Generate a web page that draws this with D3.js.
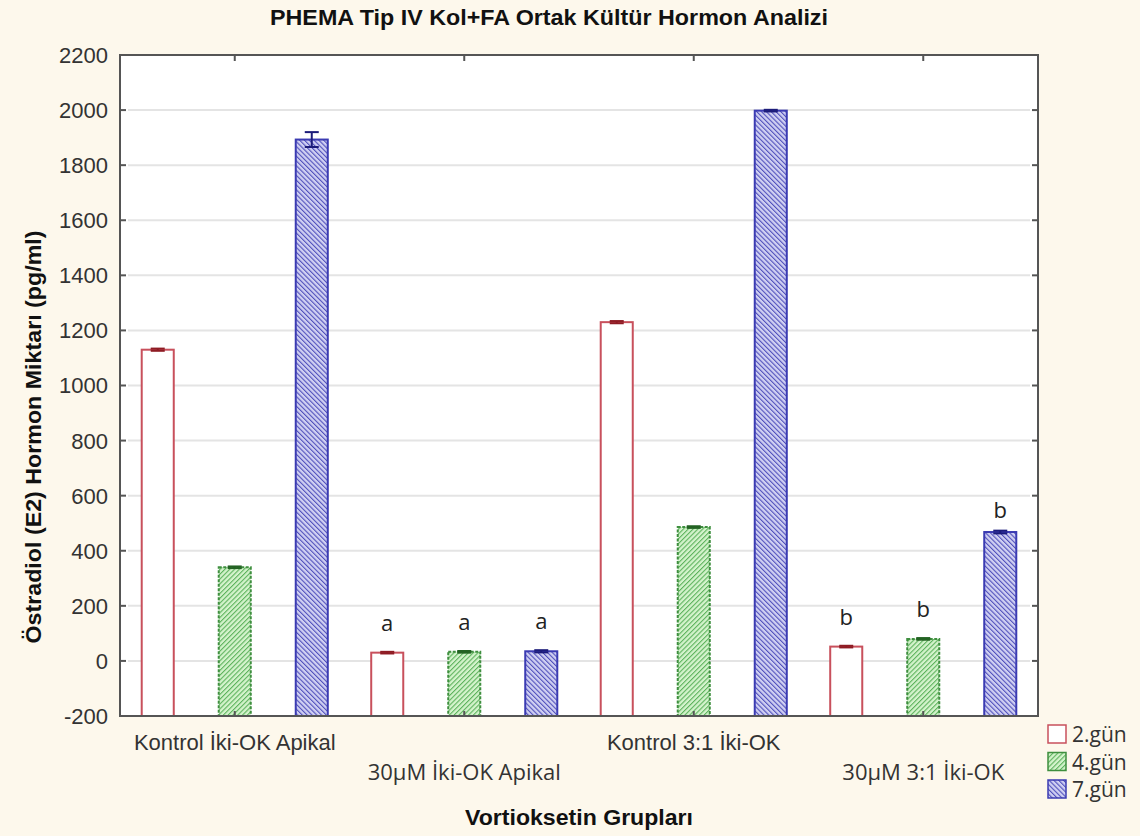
<!DOCTYPE html>
<html lang="tr">
<head>
<meta charset="utf-8">
<title>PHEMA Tip IV Kol+FA Ortak Kültür Hormon Analizi</title>
<script src="https://d3js.org/d3.v7.min.js"></script>
<style>
  body { margin: 0; background: #fdf8ec; }
  svg { display: block; }
</style>
</head>
<body>
<div id="chart"></div>
<script>
// data
var groups = ["Kontrol İki-OK Apikal", "30μM İki-OK Apikal", "Kontrol 3:1 İki-OK", "30μM 3:1 İki-OK"]
var series = ["2.gün", "4.gün", "7.gün"]
var gun2 = [1130, 30, 1230, 52]
var gun4 = [340, 33, 486, 80]
var gun7 = [1893, 35, 1998, 468]
var err2 = [4, 3, 4, 3]
var err4 = [3, 3, 3, 3]
var err7 = [27, 4, 3, 5]
var letters = [["", "", ""], ["a", "a", "a"], ["", "", ""], ["b", "b", "b"]]
var yTicks = [-200, 0, 200, 400, 600, 800, 1000, 1200, 1400, 1600, 1800, 2000, 2200]

var width = 1140, height = 836
var margin = {top: 55, right: 102, bottom: 120, left: 120}

var svg = d3.select("#chart").append("svg")
  .attr("width", width)
  .attr("height", height)

// hatch patterns
var defs = svg.append("defs")
function hatch(id, bg, line, angle) {
  var p = defs.append("pattern")
    .attr("id", id)
    .attr("patternUnits", "userSpaceOnUse")
    .attr("width", 3.4).attr("height", 3.4)
    .attr("patternTransform", "rotate(" + angle + ")")
  p.append("rect").attr("width", 3.4).attr("height", 3.4).attr("fill", bg)
  p.append("rect").attr("width", 1.1).attr("height", 3.4).attr("fill", line)
}
hatch("hatchGreen", "#d4f3cc", "#5cb25c", 45)
hatch("hatchBlue", "#d0d0f2", "#5050bc", -45)

var style = [
  {fill: "#ffffff", stroke: "#c8505c", err: "#8e1c24", dash: null},
  {fill: "url(#hatchGreen)", stroke: "#3f8f3f", err: "#236323", dash: "3,1.5"},
  {fill: "url(#hatchBlue)", stroke: "#3b3bb2", err: "#1c1c7a", dash: null}
]

var x0 = margin.left, x1 = width - margin.right
var yTop = margin.top, yBot = height - margin.bottom

// plot area background
svg.append("rect")
  .attr("x", x0).attr("y", yTop)
  .attr("width", x1 - x0).attr("height", yBot - yTop)
  .attr("fill", "#ffffff")

var x = d3.scaleBand().domain(groups).range([x0, x1]).padding(0)
var xs = d3.scaleBand().domain(series).range([0, x.bandwidth()])
  .paddingInner(0.584).paddingOuter(0.282)
var y = d3.scaleLinear().domain([-200, 2200]).range([yBot, yTop])

// gridlines
svg.append("g").selectAll("line")
  .data(yTicks.slice(1, -1))
  .enter().append("line")
    .attr("x1", x0 + 8).attr("x2", x1 - 8)
    .attr("y1", function(d){ return y(d) }).attr("y2", function(d){ return y(d) })
    .attr("stroke", "#e4e4e4")
    .attr("stroke-width", 2)

// bars
var rows = series.map(function(s, si) {
  var vals = [gun2, gun4, gun7][si]
  var errs = [err2, err4, err7][si]
  return groups.map(function(g, gi) {
    return {group: g, s: s, si: si, v: vals[gi], e: errs[gi], letter: letters[gi][si]}
  })
})
var flat = [].concat.apply([], rows)

function cx(d) { return x(d.group) + xs(d.s) + xs.bandwidth() / 2 }

svg.append("g").selectAll("rect")
  .data(flat)
  .enter().append("rect")
    .attr("x", function(d){ return x(d.group) + xs(d.s) })
    .attr("y", function(d){ return y(d.v) })
    .attr("width", xs.bandwidth())
    .attr("height", function(d){ return y(-200) - y(d.v) })
    .attr("fill", function(d){ return style[d.si].fill })
    .attr("stroke", function(d){ return style[d.si].stroke })
    .attr("stroke-dasharray", function(d){ return style[d.si].dash })
    .attr("stroke-width", 2)

// error bars
var eb = svg.append("g").selectAll("g")
  .data(flat)
  .enter().append("g")
    .attr("stroke", function(d){ return style[d.si].err })
    .attr("stroke-width", 2)
eb.append("line")
  .attr("x1", cx).attr("x2", cx)
  .attr("y1", function(d){ return y(d.v + d.e) })
  .attr("y2", function(d){ return y(d.v - d.e) })
eb.append("line")
  .attr("x1", function(d){ return cx(d) - 7 }).attr("x2", function(d){ return cx(d) + 7 })
  .attr("y1", function(d){ return y(d.v + d.e) }).attr("y2", function(d){ return y(d.v + d.e) })
eb.append("line")
  .attr("x1", function(d){ return cx(d) - 7 }).attr("x2", function(d){ return cx(d) + 7 })
  .attr("y1", function(d){ return y(d.v - d.e) }).attr("y2", function(d){ return y(d.v - d.e) })

// significance letters
svg.append("g").selectAll("text")
  .data(flat.filter(function(d){ return d.letter }))
  .enter().append("text")
    .attr("x", cx)
    .attr("y", function(d){ return y(d.v) - (d.v > 300 ? 14 : 22) })
    .attr("text-anchor", "middle")
    .style("font-family", "'Open Sans', sans-serif")
    .style("font-size", "22px")
    .attr("fill", "#222")
    .text(function(d){ return d.letter })

// frame and ticks
var frame = svg.append("g").attr("stroke", "#555").attr("stroke-width", 2)
frame.append("rect")
  .attr("x", x0).attr("y", yTop)
  .attr("width", x1 - x0).attr("height", yBot - yTop)
  .attr("fill", "none")
frame.selectAll(".yt")
  .data(yTicks).enter().append("line")
    .attr("x1", x0).attr("x2", x0 + 6)
    .attr("y1", function(d){ return y(d) }).attr("y2", function(d){ return y(d) })
frame.selectAll(".yr")
  .data(yTicks).enter().append("line")
    .attr("x1", x1 - 6).attr("x2", x1)
    .attr("y1", function(d){ return y(d) }).attr("y2", function(d){ return y(d) })
frame.selectAll(".xt")
  .data(groups).enter().append("line")
    .attr("x1", function(d){ return x(d) + x.bandwidth() / 2 })
    .attr("x2", function(d){ return x(d) + x.bandwidth() / 2 })
    .attr("y1", yTop).attr("y2", yTop + 6)
frame.selectAll(".xb")
  .data(groups).enter().append("line")
    .attr("x1", function(d){ return x(d) + x.bandwidth() / 2 })
    .attr("x2", function(d){ return x(d) + x.bandwidth() / 2 })
    .attr("y1", yBot - 5).attr("y2", yBot)

// y tick labels
svg.append("g").selectAll("text")
  .data(yTicks).enter().append("text")
    .attr("x", x0 - 12)
    .attr("y", function(d){ return y(d) })
    .attr("dy", "0.36em")
    .attr("text-anchor", "end")
    .style("font-family", "'Liberation Sans', Arial, sans-serif")
    .style("font-size", "22px")
    .attr("fill", "#333")
    .text(function(d){ return d })

// x category labels, alternating rows
svg.append("g").selectAll("text")
  .data(groups).enter().append("text")
    .attr("x", function(d){ return x(d) + x.bandwidth() / 2 })
    .attr("y", function(d, i){ return i % 2 ? yBot + 64 : yBot + 34 })
    .attr("text-anchor", "middle")
    .style("font-family", function(d, i){ return i % 2 ? "'Open Sans', sans-serif" : "'Liberation Sans', Arial, sans-serif" })
    .style("font-size", "22px")
    .attr("fill", "#333")
    .text(function(d){ return d })

// titles
svg.append("text")
  .attr("x", 549).attr("y", 25)
  .attr("text-anchor", "middle")
  .attr("textLength", 558).attr("lengthAdjust", "spacingAndGlyphs")
  .style("font-family", "'Liberation Sans', Arial, sans-serif")
  .style("font-weight", "bold")
  .style("font-size", "22px")
  .attr("fill", "#111")
  .text("PHEMA Tip IV Kol+FA Ortak Kültür Hormon Analizi")

svg.append("text")
  .attr("transform", "translate(41,437) rotate(-90)")
  .attr("text-anchor", "middle")
  .attr("textLength", 413).attr("lengthAdjust", "spacingAndGlyphs")
  .style("font-family", "'Liberation Sans', Arial, sans-serif")
  .style("font-weight", "bold")
  .style("font-size", "22px")
  .attr("fill", "#111")
  .text("Östradiol (E2) Hormon Miktarı (pg/ml)")

svg.append("text")
  .attr("x", 579).attr("y", 825)
  .attr("text-anchor", "middle")
  .attr("textLength", 228).attr("lengthAdjust", "spacingAndGlyphs")
  .style("font-family", "'Liberation Sans', Arial, sans-serif")
  .style("font-weight", "bold")
  .style("font-size", "22px")
  .attr("fill", "#111")
  .text("Vortioksetin Grupları")

// legend
var legend = svg.append("g").selectAll("g")
  .data(series).enter().append("g")
    .attr("transform", function(d, i){ return "translate(1048," + (725 + i * 27.5) + ")" })
legend.append("rect")
  .attr("width", 18).attr("height", 18)
  .attr("fill", function(d, i){ return style[i].fill })
  .attr("stroke", function(d, i){ return style[i].stroke })
  .attr("stroke-width", 1.5)
legend.append("text")
  .attr("x", 24).attr("y", 17)
  .style("font-family", "'Open Sans', sans-serif")
  .style("font-size", "21px")
  .attr("fill", "#333")
  .text(function(d){ return d })
</script>
</body>
</html>
